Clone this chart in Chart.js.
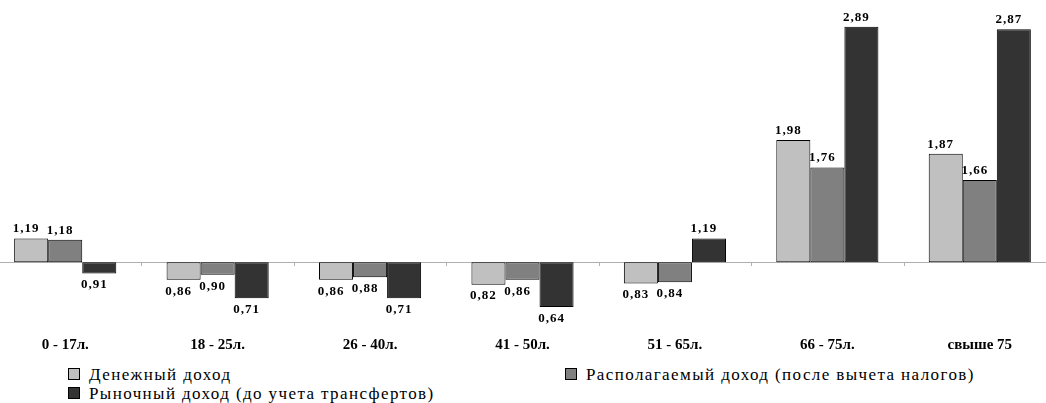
<!DOCTYPE html>
<html>
<head>
<meta charset="utf-8">
<script src="https://cdn.jsdelivr.net/npm/chart.js@4.4.1/dist/chart.umd.min.js"></script>
<style>
  html, body { margin: 0; padding: 0; background: #fff; overflow: hidden; width: 1046px; height: 403px; }
  #wrap { position: absolute; left: -11px; top: 0; width: 1067px; height: 361px; }
  .legend { position: absolute; font-family: "Liberation Serif", "Times New Roman", "DejaVu Serif", serif; font-size: 17px; letter-spacing: 1.4px; color: #000; white-space: nowrap; }
  .legend span.box { display: inline-block; width: 10px; height: 10px; border: 1px solid #000; margin-right: 9px; vertical-align: 0px; }
</style>
</head>
<body>
<div id="wrap"><canvas id="incomeChart"></canvas></div>
<div class="legend" style="left:68px; top:365px;"><span class="box" style="background:#c0c0c0"></span>Денежный доход</div>
<div class="legend" style="left:565px; top:365px;"><span class="box" style="background:#808080"></span>Располагаемый доход (после вычета налогов)</div>
<div class="legend" style="left:68px; top:384px;"><span class="box" style="background:#333333"></span>Рыночный доход (до учета трансфертов)</div>
<script>
const categories = ['0 - 17л.', '18 - 25л.', '26 - 40л.', '41 - 50л.', '51 - 65л.', '66 - 75л.', 'свыше 75'];
const moneyIncome = [1.19, 0.86, 0.86, 0.82, 0.83, 1.98, 1.87];
const disposableIncome = [1.18, 0.90, 0.88, 0.86, 0.84, 1.76, 1.66];
const marketIncome = [0.91, 0.71, 0.71, 0.64, 1.19, 2.89, 2.87];
const seriesNames = ['Денежный доход', 'Располагаемый доход (после вычета налогов)', 'Рыночный доход (до учета трансфертов)'];
const colors = ['#c0c0c0', '#808080', '#333333'];
const serif = '"Liberation Serif", "Times New Roman", "DejaVu Serif", serif';

// horizontal line at 1.0 with small marks between groups
const baseLine = {
    id: 'baseLine',
    beforeDatasetsDraw(chart) {
        const ctx = chart.ctx;
        const x = chart.scales.x;
        const y = Math.round(chart.scales.y.getPixelForValue(1));
        ctx.save();
        ctx.strokeStyle = '#b0b0b0';
        ctx.lineWidth = 1;
        ctx.beginPath();
        ctx.moveTo(0, y + 0.5);
        ctx.lineTo(chart.width, y + 0.5);
        for (let i = 0; i <= categories.length; i++) {
            const px = Math.round(x.getPixelForValue(i - 0.5)) + 0.5;
            ctx.moveTo(px, y);
            ctx.lineTo(px, y + 4);
        }
        ctx.stroke();
        ctx.restore();
    }
};

const valueLabels = {
    id: 'valueLabels',
    afterDatasetsDraw(chart) {
        const ctx = chart.ctx;
        ctx.save();
        ctx.font = 'bold 13px ' + serif;
        ctx.letterSpacing = '1px';
        ctx.fillStyle = '#000';
        ctx.textAlign = 'center';
        chart.data.datasets.forEach((ds, di) => {
            chart.getDatasetMeta(di).data.forEach((el, i) => {
                const v = ds.data[i];
                const txt = v.toFixed(2).replace('.', ',');
                if (v >= 1) {
                    ctx.textBaseline = 'bottom';
                    ctx.fillText(txt, el.x - 5, el.y - 3);
                } else {
                    ctx.textBaseline = 'top';
                    ctx.fillText(txt, el.x - 5, el.y + 5);
                }
            });
        });
        ctx.restore();
    }
};

new Chart(document.getElementById('incomeChart'), {
    type: 'bar',
    data: {
        labels: categories,
        datasets: [moneyIncome, disposableIncome, marketIncome].map((d, i) => ({
            label: seriesNames[i],
            data: d,
            base: 1,
            backgroundColor: colors[i],
            borderColor: '#000',
            borderWidth: 1,
            borderSkipped: false,
            categoryPercentage: 0.67,
            barPercentage: 1.0
        }))
    },
    options: {
        responsive: true,
        maintainAspectRatio: false,
        animation: false,
        layout: { padding: 0 },
        plugins: {
            legend: { display: false },
            tooltip: { enabled: false }
        },
        scales: {
            x: {
                grid: { display: false, drawTicks: false },
                border: { display: false },
                ticks: {
                    color: '#000',
                    padding: 7,
                    font: { family: serif, size: 15, weight: 'bold' }
                }
            },
            y: {
                display: false,
                min: 0.464,
                max: 3.104
            }
        }
    },
    plugins: [baseLine, valueLabels]
});
</script>
</body>
</html>
